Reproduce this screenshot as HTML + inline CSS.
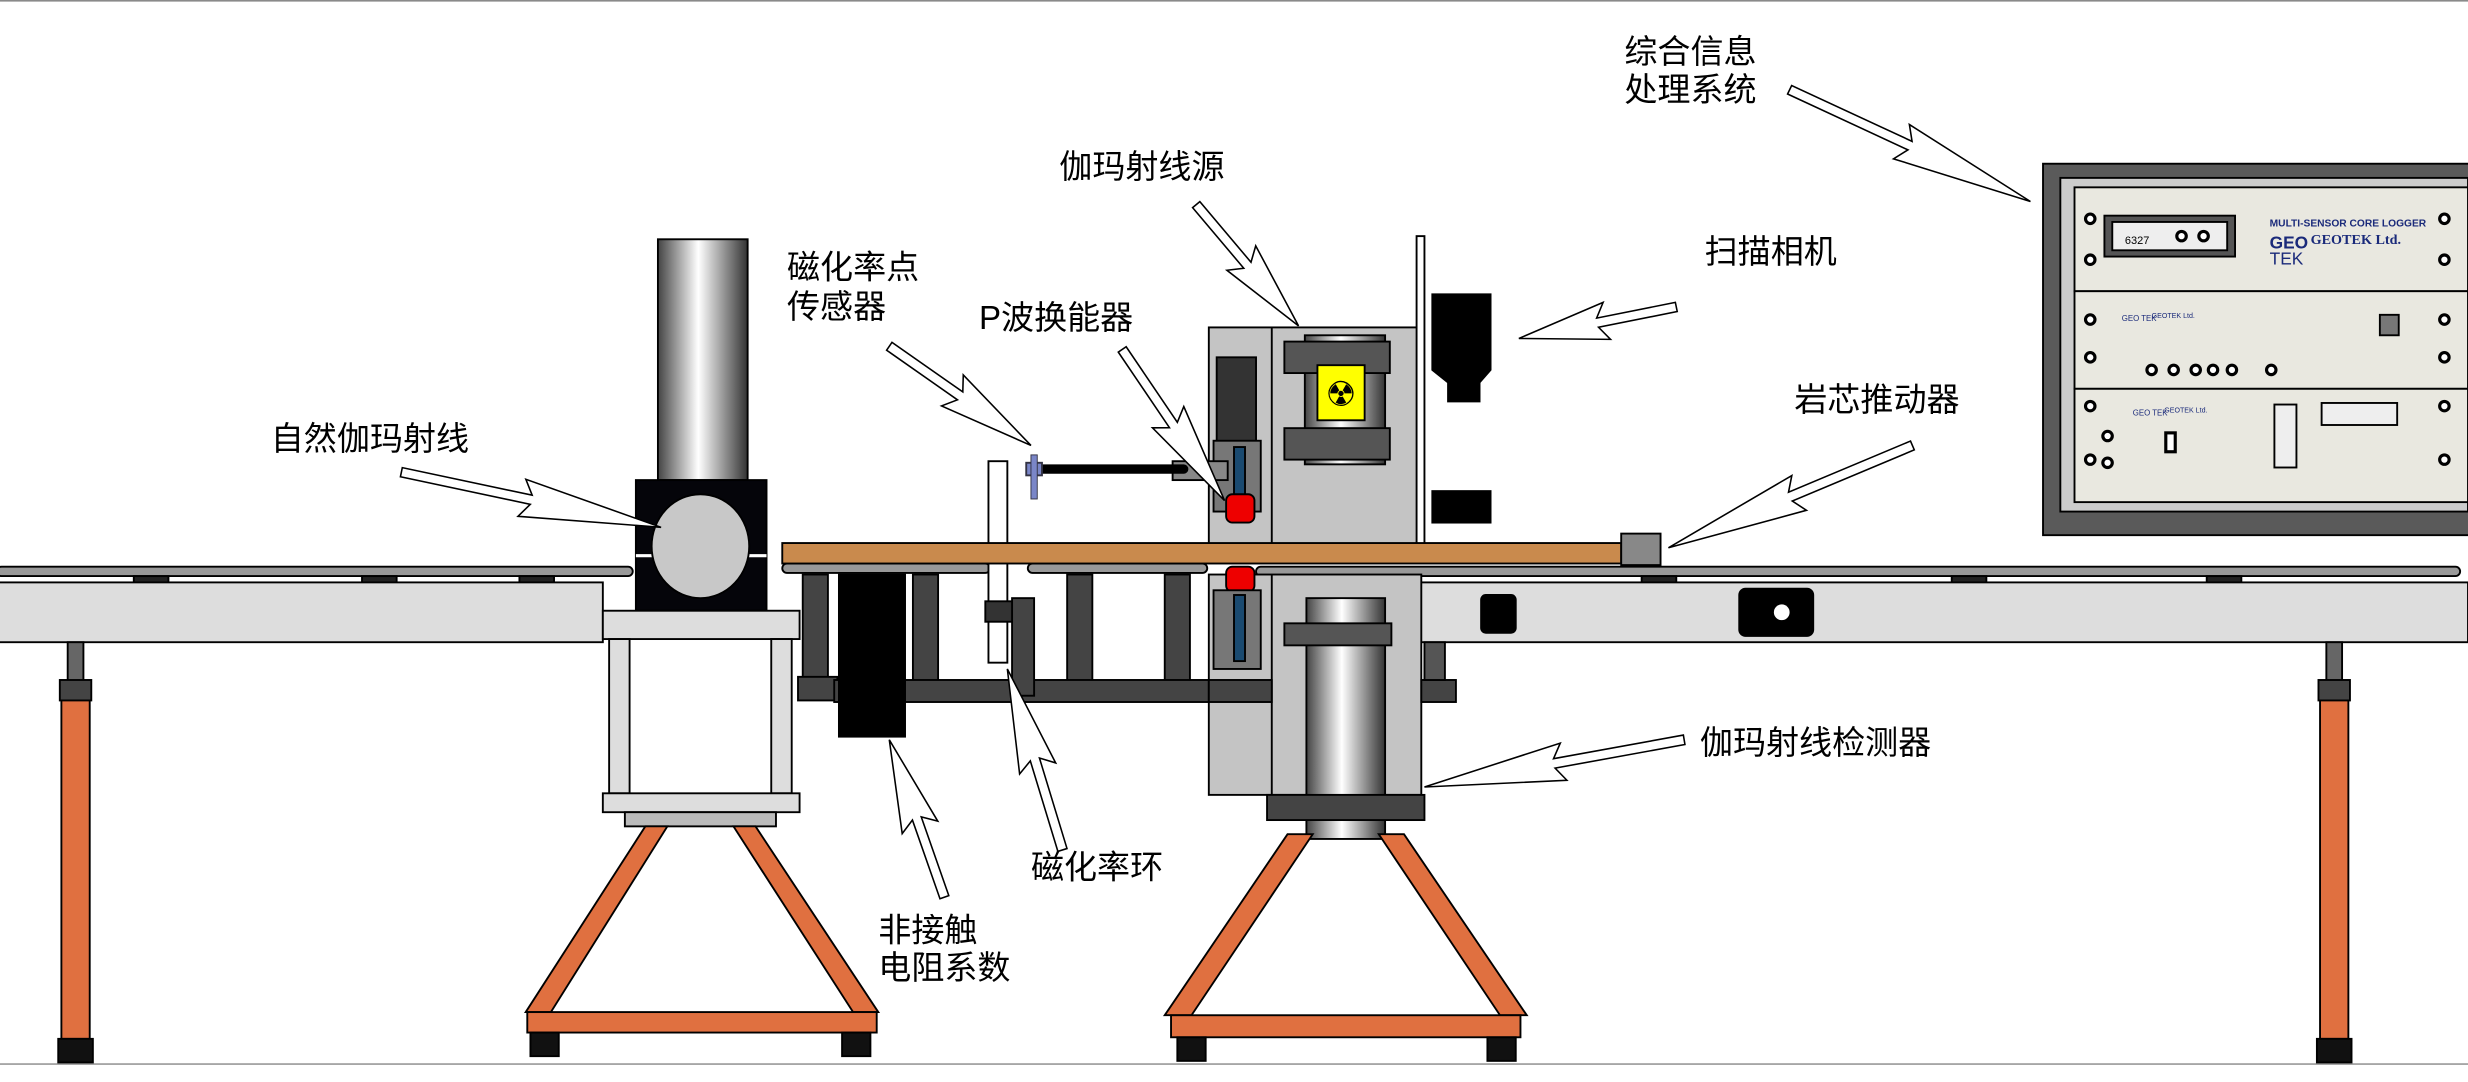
<!DOCTYPE html>
<html><head><meta charset="utf-8"><style>
html,body{margin:0;padding:0;background:#fff;}
svg{display:block}
text{font-family:"Liberation Sans","Noto Sans CJK SC",sans-serif;font-size:21px;fill:#000}
</style></head><body>
<svg id="s" width="2468" height="1082" viewBox="0 0 1568 687.4" xmlns="http://www.w3.org/2000/svg">
<defs>
<linearGradient id="cyl" x1="0" x2="1" y1="0" y2="0">
<stop offset="0" stop-color="#444"/><stop offset="0.45" stop-color="#fff"/><stop offset="1" stop-color="#333"/>
</linearGradient>
</defs>
<rect x="0" y="0" width="1568" height="1" fill="#888"/>
<line x1="0" y1="676" x2="1568" y2="676" stroke="#999" stroke-width="1"/>
<g stroke="#000" stroke-width="1.2">
<rect x="-2" y="360" width="404" height="6" rx="3" fill="#999"/>
<rect x="85" y="366" width="22" height="5" fill="#222"/>
<rect x="230" y="366" width="22" height="5" fill="#222"/>
<rect x="330" y="366" width="22" height="5" fill="#222"/>
<rect x="-2" y="370" width="385" height="38" fill="#ddd"/>
<rect x="798" y="360" width="765" height="6" rx="3" fill="#999"/>
<rect x="1043" y="366" width="22" height="5" fill="#222"/>
<rect x="1240" y="366" width="22" height="5" fill="#222"/>
<rect x="1402" y="366" width="22" height="5" fill="#222"/>
<rect x="900" y="370" width="668" height="38" fill="#ddd"/>
<rect x="941" y="378" width="22" height="24" rx="3" fill="#000"/>
<rect x="1105" y="374" width="47" height="30" rx="4" fill="#000"/>
<circle cx="1132" cy="389" r="5" fill="#fff" stroke="none"/>
<rect x="43" y="408" width="10" height="25" fill="#666"/>
<rect x="38" y="432" width="20" height="13" fill="#444"/>
<rect x="39" y="445" width="18" height="215" fill="#e07040"/>
<rect x="37" y="660" width="22" height="15" fill="#111"/>
<rect x="1478" y="408" width="10" height="25" fill="#666"/>
<rect x="1473" y="432" width="20" height="13" fill="#444"/>
<rect x="1474" y="445" width="18" height="215" fill="#e07040"/>
<rect x="1472" y="660" width="22" height="15" fill="#111"/>
<rect x="497" y="358" width="132" height="6" rx="3" fill="#999"/>
<rect x="653" y="358" width="114" height="6" rx="3" fill="#999"/>
<rect x="510" y="365" width="16" height="75" fill="#444"/>
<rect x="580" y="365" width="16" height="75" fill="#444"/>
<rect x="678" y="365" width="16" height="75" fill="#444"/>
<rect x="740" y="365" width="16" height="75" fill="#444"/>
<rect x="507" y="430" width="25" height="15" fill="#444"/>
<rect x="530" y="432" width="240" height="14" fill="#444"/>
<rect x="533" y="365" width="42" height="103" fill="#000"/>
<rect x="643" y="380" width="14" height="62" fill="#444"/>
<rect x="628" y="293" width="12" height="128" fill="#fff"/>
<rect x="626" y="382" width="17" height="13" fill="#333"/>
<rect x="418" y="152" width="57" height="153" fill="url(#cyl)"/>
<rect x="404" y="305" width="83" height="83" fill="#05050a"/>
<line x1="404" y1="353" x2="487" y2="353" stroke="#fff" stroke-width="2"/>
<ellipse cx="445" cy="347" rx="31" ry="33" fill="#c8c8c8"/>
<rect x="383" y="388" width="125" height="18" fill="#ddd"/>
<rect x="387" y="406" width="13" height="98" fill="#ddd"/>
<rect x="490" y="406" width="13" height="98" fill="#ddd"/>
<rect x="383" y="504" width="125" height="12" fill="#ddd"/>
<rect x="397" y="516" width="96" height="9" fill="#bbb"/>
<polygon points="410,525 424,525 350,643 334,643" fill="#e07040"/>
<polygon points="466,525 480,525 558,643 542,643" fill="#e07040"/>
<rect x="335" y="643" width="222" height="13" fill="#e07040"/>
<rect x="337" y="656" width="18" height="15" fill="#111"/>
<rect x="535" y="656" width="18" height="15" fill="#111"/>
<rect x="497" y="345" width="533" height="13" fill="#c98a4d"/>
<rect x="1030" y="339" width="25" height="20" fill="#888"/>
<rect x="768" y="208" width="135" height="137" fill="#c4c4c4"/>
<line x1="808" y1="208" x2="808" y2="345"/>
<rect x="768" y="365" width="135" height="140" fill="#c4c4c4"/>
<line x1="808" y1="365" x2="808" y2="505"/>
<rect x="773" y="227" width="25" height="55" fill="#333"/>
<rect x="771" y="280" width="30" height="45" fill="#777"/>
<rect x="784" y="284" width="7" height="38" fill="#1a4a70"/>
<rect x="779" y="314" width="18" height="18" rx="4" fill="#e00"/>
<rect x="779" y="360" width="18" height="16" rx="4" fill="#e00"/>
<rect x="771" y="375" width="30" height="50" fill="#777"/>
<rect x="784" y="378" width="7" height="42" fill="#1a4a70"/>
<rect x="768" y="432" width="40" height="14" fill="#444"/>
<rect x="903" y="432" width="22" height="14" fill="#444"/>
<rect x="905" y="408" width="13" height="24" fill="#555"/>
<rect x="829" y="213" width="51" height="82" fill="url(#cyl)"/>
<rect x="816" y="217" width="67" height="20" fill="#555"/>
<rect x="816" y="272" width="67" height="20" fill="#555"/>
<rect x="837" y="232" width="30" height="35" fill="#ff0"/>
<text x="852" y="258" text-anchor="middle" style="font-size:22px" stroke="none">☢</text>
<rect x="830" y="380" width="50" height="153" fill="url(#cyl)"/>
<rect x="816" y="396" width="68" height="14" fill="#555"/>
<rect x="805" y="505" width="100" height="16" fill="#444"/>
<polygon points="818,530 834,530 757,645 740,645" fill="#e07040"/>
<polygon points="876,530 892,530 970,645 953,645" fill="#e07040"/>
<rect x="744" y="645" width="222" height="14" fill="#e07040"/>
<rect x="748" y="659" width="18" height="15" fill="#111"/>
<rect x="945" y="659" width="18" height="15" fill="#111"/>
<rect x="900" y="150" width="5" height="195" fill="#fff"/>
<path d="M910,187 H947 V235 L940,243 V255 H920 V243 L910,235 Z" fill="#000"/>
<rect x="910" y="312" width="37" height="20" fill="#000"/>
<rect x="745" y="293" width="35" height="12" fill="#888"/>
<line x1="662" y1="298" x2="752" y2="298" stroke-width="6" stroke-linecap="round"/>
<rect x="652" y="294" width="10" height="8" fill="#7a86c8" stroke="#334"/>
<rect x="655" y="289" width="4" height="28" fill="#7a86c8" stroke="#334" stroke-width="0.6"/>
<rect x="1298" y="104" width="272" height="236" fill="#5a5a5a"/>
<rect x="1309" y="113" width="259" height="212" fill="#ccc"/>
<rect x="1318" y="119" width="250" height="66" fill="#e9e8e0"/>
<rect x="1318" y="185" width="250" height="62" fill="#e9e8e0"/>
<rect x="1318" y="247" width="250" height="72" fill="#e9e8e0"/>
<rect x="1337" y="137" width="83" height="26" fill="#555"/>
<rect x="1342" y="141" width="73" height="18" fill="#eee"/>
<rect x="1445" y="257" width="14" height="40" fill="#eee"/>
<rect x="1475" y="256" width="48" height="14" fill="#eee"/>
<rect x="1512" y="200" width="12" height="13" fill="#777"/>
</g>
<g fill="#fff" stroke="#000" stroke-width="2">
<circle cx="1328" cy="139" r="3"/><circle cx="1328" cy="165" r="3"/><circle cx="1553" cy="139" r="3"/><circle cx="1553" cy="165" r="3"/>
<circle cx="1328" cy="203" r="3"/><circle cx="1328" cy="227" r="3"/><circle cx="1553" cy="203" r="3"/><circle cx="1553" cy="227" r="3"/>
<circle cx="1328" cy="258" r="3"/><circle cx="1328" cy="292" r="3"/><circle cx="1553" cy="258" r="3"/><circle cx="1553" cy="292" r="3"/>
<circle cx="1386" cy="150" r="3"/><circle cx="1400" cy="150" r="3"/>
<circle cx="1367" cy="235" r="3"/><circle cx="1381" cy="235" r="3"/><circle cx="1395" cy="235" r="3"/><circle cx="1406" cy="235" r="3"/><circle cx="1418" cy="235" r="3"/><circle cx="1443" cy="235" r="3"/>
<circle cx="1339" cy="277" r="3"/><circle cx="1339" cy="294" r="3"/><rect x="1376" y="275" width="6" height="12"/>
</g>
<g font-size="7" stroke="none">
<text x="1442" y="144" style="font-size:6.5px;font-weight:bold;fill:#1a2a7a">MULTI-SENSOR CORE LOGGER</text>
<text x="1442" y="158" style="font-size:11px;font-weight:bold;fill:#1a2a7a">GEO</text>
<text x="1468" y="155" style="font-size:9px;font-weight:bold;fill:#1a2a7a;font-family:'Liberation Serif',serif">GEOTEK Ltd.</text>
<text x="1442" y="168" style="font-size:11px;fill:#1a2a7a">TEK</text>
<text x="1350" y="155" style="font-size:7px">6327</text>
<text x="1348" y="204" style="font-size:5px;fill:#1a2a7a">GEO TEK</text>
<text x="1367" y="202" style="font-size:4.5px;fill:#1a2a7a">GEOTEK Ltd.</text>
<text x="1355" y="264" style="font-size:5px;fill:#1a2a7a">GEO TEK</text>
<text x="1375" y="262" style="font-size:4.5px;fill:#1a2a7a">GEOTEK Ltd.</text>
</g>
<g id="arrows" fill="#fff" stroke="#000" stroke-width="1"></g>
<g>
<text x="1032" y="40">综合信息</text>
<text x="1032" y="64">处理系统</text>
<text x="673" y="113">伽玛射线源</text>
<text x="1083" y="167">扫描相机</text>
<text x="500" y="177">磁化率点</text>
<text x="500" y="202">传感器</text>
<text x="622" y="209">P波换能器</text>
<text x="1140" y="261">岩芯推动器</text>
<text x="172" y="286">自然伽玛射线</text>
<text x="1080" y="479">伽玛射线检测器</text>
<text x="655" y="558">磁化率环</text>
<text x="558" y="598">非接触</text>
<text x="558" y="622">电阻系数</text>
</g>
</svg>
<script>
var A=[[1137,57,1290,128],[760,130,825,207],[565,220,655,283],[713,222,778,318],[255,300,420,335],[1065,195,965,215],[1215,283,1060,348],[1070,470,905,500],[675,540,640,425],[600,570,565,470]];
var g=document.getElementById('arrows');
A.forEach(function(a){
var dx=a[2]-a[0],dy=a[3]-a[1],L=Math.hypot(dx,dy),ux=dx/L,uy=dy/L,nx=-uy,ny=ux;
var hl=L*0.5,w=3,H=12;
var bx=a[2]-ux*hl,by=a[3]-uy*hl;
var p=[[a[0]+nx*w,a[1]+ny*w],[bx+nx*w,by+ny*w],[bx-ux*6+nx*H,by-uy*6+ny*H],[a[2],a[3]],[bx-ux*6-nx*H,by-uy*6-ny*H],[bx-nx*w,by-ny*w],[a[0]-nx*w,a[1]-ny*w]];
var e=document.createElementNS('http://www.w3.org/2000/svg','polygon');
e.setAttribute('points',p.map(function(q){return q[0].toFixed(1)+','+q[1].toFixed(1)}).join(' '));
g.appendChild(e);
});
</script>
</body></html>
